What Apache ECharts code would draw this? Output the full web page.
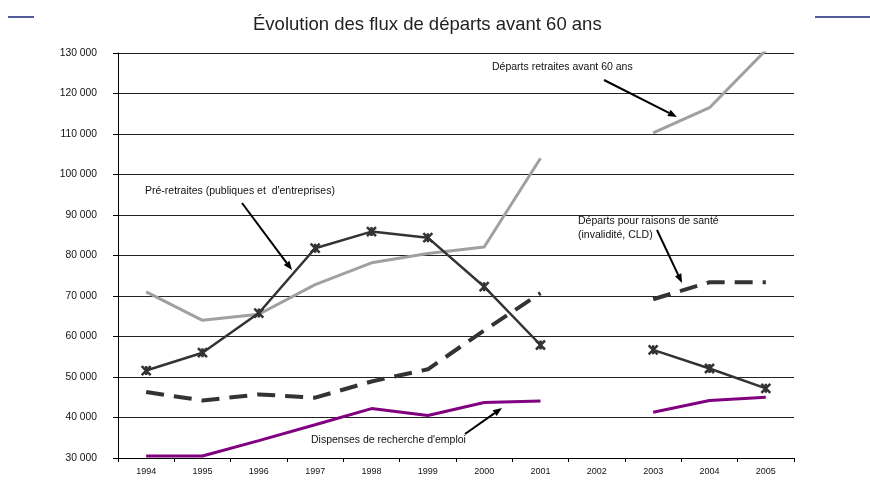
<!DOCTYPE html>
<html><head><meta charset="utf-8">
<script src="https://cdn.jsdelivr.net/npm/echarts@6/dist/echarts.min.js"></script>
<style>html,body{margin:0;padding:0;background:#fff}#c{width:870px;height:480px}</style>
</head><body><div id="c"></div>
<script>
var years = ['1994','1995','1996','1997','1998','1999','2000','2001','2002','2003','2004','2005'];
var retraites = [71000,64000,65500,72800,78200,80500,82100,104000,null,110300,116500,130700];
var preRetraites = [51600,56000,65800,81800,85900,84400,72300,57900,null,56700,52100,47200];
var sante = [46300,44200,45700,44900,48900,51900,61500,70700,null,69200,73400,73400];
var dispenses = [30500,30500,34300,38200,42200,40500,43700,44100,null,41300,44200,45000];
var yTicks = {min:30000, max:130000, step:10000};

var chart = echarts.init(document.getElementById('c'));
var font = 'Liberation Sans, Arial, sans-serif';
function arrow(x1,y1,x2,y2){
  var a = Math.atan2(y2-y1,x2-x1), L=9, W=3.5;
  var bx = x2 - L*Math.cos(a), by = y2 - L*Math.sin(a);
  return [
    {type:'line', shape:{x1:x1,y1:y1,x2:bx,y2:by}, style:{stroke:'#000',lineWidth:2}, z:100},
    {type:'polygon', shape:{points:[[x2,y2],[bx+W*Math.sin(a),by-W*Math.cos(a)],[bx-W*Math.sin(a),by+W*Math.cos(a)]]}, style:{fill:'#000'}, z:100}
  ];
}
function txt(x,y,t){return {type:'text', left:x, top:y, style:{text:t, font:'10.5px '+font, fill:'#111'}, z:100};}
var graphics = [
  {type:'line', shape:{x1:8,y1:17,x2:34,y2:17}, style:{stroke:'#1a237e',lineWidth:1.5}},
  {type:'line', shape:{x1:815,y1:17,x2:870,y2:17}, style:{stroke:'#1a237e',lineWidth:1.5}},
  txt(492,62,'Départs retraites avant 60 ans'),
  txt(145,186,'Pré-retraites (publiques et  d\'entreprises)'),
  txt(578,216,'Départs pour raisons de santé'),
  txt(578,230,'(invalidité, CLD)'),
  txt(311,435,'Dispenses de recherche d\'emploi')
].concat(arrow(604,80,677,117), arrow(242,203,292,270), arrow(657,230,682,283), arrow(465,434,502,408));

chart.setOption({
  backgroundColor:'#fff',
  animation:false,
  title:{text:'Évolution des flux de départs avant 60 ans', left:248, top:10,
    textStyle:{fontFamily:font, fontSize:18.5, fontWeight:'normal', color:'#222'}},
  grid:{left:118, right:76, top:53, bottom:22},
  xAxis:{type:'category', data:years, boundaryGap:true,
    axisLine:{lineStyle:{color:'#000',width:1}},
    axisTick:{show:true, length:4, lineStyle:{color:'#000'}},
    axisLabel:{fontFamily:font, fontSize:9, color:'#111', margin:9}},
  yAxis:{type:'value', min:yTicks.min, max:yTicks.max, interval:yTicks.step,
    axisLine:{show:true, lineStyle:{color:'#000',width:1}},
    axisTick:{show:true, length:5, lineStyle:{color:'#000'}},
    splitLine:{lineStyle:{color:'#222',width:1}},
    axisLabel:{fontFamily:font, fontSize:10.3, color:'#111', margin:21,
      formatter:function(v){return String(v).replace(/\B(?=(\d{3})+(?!\d))/g,' ');}}},
  graphic:graphics,
  series:[
    {name:'Départs retraites avant 60 ans', type:'line', data:retraites, connectNulls:false, showSymbol:false, symbol:'none',
      lineStyle:{color:'#a0a0a0', width:3}, itemStyle:{color:'#a0a0a0'}, z:2},
    {name:'Départs pour raisons de santé', type:'line', data:sante, connectNulls:false, symbol:'none',
      lineStyle:{color:'#333', width:4, type:[18,10]}, itemStyle:{color:'#333'}, z:3},
    {name:'Pré-retraites', type:'line', data:preRetraites, connectNulls:false,
      symbol:'path://M0,0L10,10M10,0L0,10M5,0L5,10', symbolSize:9,
      lineStyle:{color:'#333', width:2.5}, itemStyle:{color:'#333', borderColor:'#333', borderWidth:2.5}, z:4},
    {name:'Dispenses de recherche d\'emploi', type:'line', data:dispenses, connectNulls:false, symbol:'none',
      lineStyle:{color:'#800080', width:3}, itemStyle:{color:'#800080'}, z:3}
  ]
});
</script></body></html>
